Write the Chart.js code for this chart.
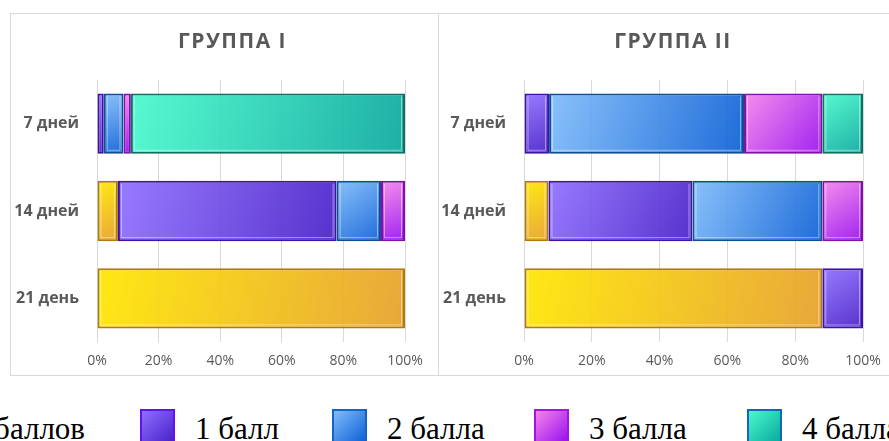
<!DOCTYPE html>
<html>
<head>
<meta charset="utf-8">
<script src="https://cdn.jsdelivr.net/npm/chart.js@4.4.1/dist/chart.umd.min.js"></script>
<style>
  html, body { margin: 0; padding: 0; background: #fff; }
  body { position: relative; width: 889px; height: 441px; overflow: hidden; }
  .panel { position: absolute; box-sizing: border-box; border: 1px solid #d9d9d9; }
  #p1 { left: 10px; top: 13px; width: 429px; height: 363px; }
  #p2 { left: 438px; top: 13px; width: 472px; height: 363px; }
  canvas { position: absolute; }
  #c1 { left: 11px; top: 13px; }
  #c2 { left: 438px; top: 13px; }
  .legend-item {
    position: absolute; top: 409px; display: flex; align-items: flex-start;
    font-family: 'Liberation Serif', 'Times New Roman', serif; font-size: 31px;
    line-height: 31px; color: #000; white-space: nowrap;
  }
  .legend-item span { margin-top: 4px; }
  .swatch { width: 35px; height: 35px; box-sizing: border-box; border: 2px solid; margin-right: 20px; }
</style>
</head>
<body>
<div class="panel" id="p1"></div>
<div class="panel" id="p2"></div>
<canvas id="c1" width="427" height="362"></canvas>
<canvas id="c2" width="470" height="362"></canvas>
<div id="legend"></div>

<script>
// Доля пациентов (%) по баллам на каждом сроке наблюдения
const CATEGORIES = ['7 дней', '14 дней', '21 день'];
const SERIES_NAMES = ['0 баллов', '1 балл', '2 балла', '3 балла', '4 балла'];
const TITLES = ['ГРУППА I', 'ГРУППА II'];

// Группа I
const g1Score0 = [0, 6.8, 100];
const g1Score1 = [2.2, 71.0, 0];
const g1Score2 = [6.4, 14.4, 0];
const g1Score3 = [2.4, 7.8, 0];
const g1Score4 = [89.0, 0, 0];

// Группа II
const g2Score0 = [0, 7.2, 88.0];
const g2Score1 = [7.4, 42.5, 12.0];
const g2Score2 = [57.5, 38.3, 0];
const g2Score3 = [23.1, 12.0, 0];
const g2Score4 = [12.0, 0, 0];

// Axis ticks (percent)
const X_TICK_STEP = 20;
const X_MAX = 100;

// Series styling: gradient light -> dark, border colour, legend border colour
const FILL_LIGHT = ['rgba(255,230,0,0.92)', 'rgba(142,112,255,0.92)', 'rgba(128,188,250,0.92)', 'rgba(246,132,234,0.92)', 'rgba(72,250,204,0.92)'];
const FILL_DARK  = ['rgba(230,160,42,0.92)', 'rgba(74,32,200,0.92)', 'rgba(12,96,214,0.92)', 'rgba(152,16,240,0.92)', 'rgba(10,168,158,0.92)'];
const BORDER     = ['#b07a10', '#3f12a8', '#0e4f8f', '#8210a8', '#0d7060'];
const LEGEND_BORDER = ['#c08a10', '#6012f0', '#1565c0', '#a018e0', '#1565c0'];
const BAR_PCT = 0.69;

function barFill(c, s) {
  const chart = c.chart;
  const xs = chart.scales.x, ys = chart.scales.y;
  if (c.type !== 'data' || !xs || !ys) return FILL_DARK[s];
  const sets = chart.data.datasets;
  let start = 0;
  for (let k = 0; k < c.datasetIndex; k++) start += sets[k].data[c.dataIndex] || 0;
  const end = start + (sets[c.datasetIndex].data[c.dataIndex] || 0);
  const x0 = xs.getPixelForValue(start), x1 = xs.getPixelForValue(end);
  const band = (ys.bottom - ys.top) / chart.data.labels.length * BAR_PCT;
  const yc = ys.getPixelForValue(c.dataIndex);
  if (![x0, x1, band, yc].every(Number.isFinite)) return FILL_DARK[s];
  const g = chart.ctx.createLinearGradient(x0, yc - band / 2, x1 + 0.01, yc + band / 2);
  g.addColorStop(0, FILL_LIGHT[s]);
  g.addColorStop(1, FILL_DARK[s]);
  return g;
}

// Soft inner highlight along the bar edges
const bevel = {
  id: 'bevel',
  afterDatasetsDraw(chart) {
    const ctx = chart.ctx;
    chart.data.datasets.forEach((ds, i) => {
      chart.getDatasetMeta(i).data.forEach(bar => {
        const p = bar.getProps(['x', 'base', 'y', 'height'], true);
        const left = Math.min(p.x, p.base), right = Math.max(p.x, p.base);
        if (right - left < 8) return;
        const top = p.y - p.height / 2, bottom = p.y + p.height / 2;
        ctx.save();
        ctx.strokeStyle = 'rgba(255,255,255,0.45)';
        ctx.lineWidth = 1;
        ctx.beginPath();
        ctx.moveTo(left + 3.5, top + 3);
        ctx.lineTo(left + 3.5, bottom - 3.5);
        ctx.lineTo(right - 3.5, bottom - 3.5);
        ctx.lineTo(right - 3.5, top + 3);
        ctx.stroke();
        ctx.restore();
      });
    });
  }
};

// Panel heading, letter-spaced, centred at a given x
const panelTitle = {
  id: 'panelTitle',
  afterDraw(chart, args, opts) {
    const ctx = chart.ctx;
    ctx.save();
    ctx.font = 'bold 21px "Open Sans"';
    ctx.fillStyle = '#595959';
    ctx.textAlign = 'center';
    ctx.textBaseline = 'middle';
    if ('letterSpacing' in ctx) ctx.letterSpacing = '1.5px';
    ctx.fillText(opts.text, opts.x, opts.y);
    ctx.restore();
  }
};

function makeChart(id, title, series, padRight, titleX) {
  const datasets = series.map((data, s) => ({
    label: SERIES_NAMES[s],
    data: data,
    backgroundColor: c => barFill(c, s),
    borderColor: BORDER[s],
    borderWidth: 2,
    borderSkipped: false,
    barPercentage: BAR_PCT,
    categoryPercentage: 1
  }));
  return new Chart(document.getElementById(id), {
    type: 'bar',
    data: { labels: CATEGORIES, datasets },
    plugins: [bevel, panelTitle],
    options: {
      indexAxis: 'y',
      responsive: false,
      animation: false,
      devicePixelRatio: 1,
      layout: { padding: { left: 0, right: padRight, top: 67, bottom: 0 } },
      plugins: {
        legend: { display: false },
        tooltip: { enabled: false },
        title: { display: false },
        panelTitle: { text: title, x: titleX, y: 29 }
      },
      scales: {
        x: {
          stacked: true, min: 0, max: X_MAX,
          border: { display: false },
          grid: { color: '#d9d9d9', lineWidth: 1, drawTicks: false },
          ticks: {
            stepSize: X_TICK_STEP, padding: 11, color: '#595959',
            font: { family: 'Open Sans', size: 14 },
            callback: v => v + '%'
          },
          afterFit(s) { s.height = 33; }
        },
        y: {
          stacked: true,
          border: { display: false },
          grid: { display: false, drawTicks: false },
          ticks: { padding: 18, color: '#595959', font: { family: 'Open Sans', size: 16, weight: 'bold' } },
          afterFit(s) { s.width = 86; }
        }
      }
    }
  });
}

makeChart('c1', TITLES[0], [g1Score0, g1Score1, g1Score2, g1Score3, g1Score4], 33, 221.5);
makeChart('c2', TITLES[1], [g2Score0, g2Score1, g2Score2, g2Score3, g2Score4], 45, 235);

// Общая легенда под двумя панелями
const LEGEND_X = [null, 140, 332, 534, 747];
const legend = document.getElementById('legend');
SERIES_NAMES.forEach((name, s) => {
  const item = document.createElement('div');
  item.className = 'legend-item';
  if (LEGEND_X[s] === null) item.style.right = (889 - 85) + 'px';
  else item.style.left = LEGEND_X[s] + 'px';
  const sw = document.createElement('div');
  sw.className = 'swatch';
  sw.style.borderColor = LEGEND_BORDER[s];
  sw.style.background = 'linear-gradient(135deg,' + FILL_LIGHT[s].replace('0.92', '1') + ',' + FILL_DARK[s].replace('0.92', '1') + ')';
  const tx = document.createElement('span');
  tx.textContent = name;
  item.appendChild(sw);
  item.appendChild(tx);
  legend.appendChild(item);
});
</script>
</body>
</html>
